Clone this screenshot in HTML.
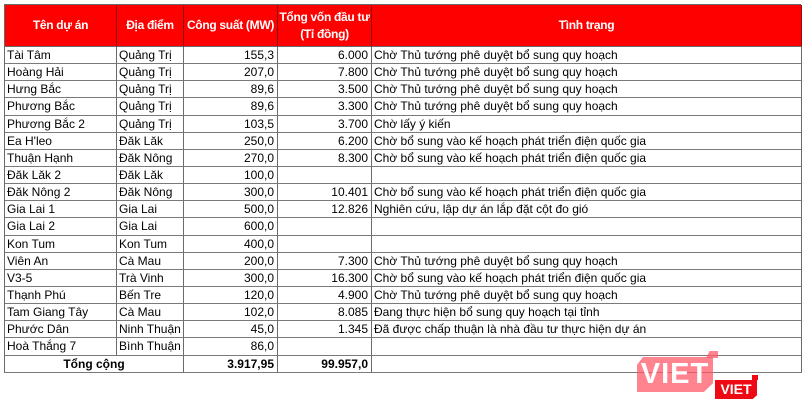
<!DOCTYPE html>
<html><head><meta charset="utf-8">
<style>
html,body{margin:0;padding:0;background:#fff;}
body{width:810px;height:407px;position:relative;overflow:hidden;font-family:"Liberation Sans","DejaVu Sans",sans-serif;font-size:12px;color:#000;}
.t{position:absolute;left:4px;top:4px;width:797px;display:grid;grid-template-columns:112px 67px 94px 94px 430px;grid-template-rows:42px repeat(19,17.15px);border-left:1px solid #6a6a6a;border-top:1px solid #6a6a6a;box-sizing:border-box;}
.t>div{border-right:1px solid #6a6a6a;border-bottom:1px solid #7a7a7a;box-sizing:border-box;line-height:17px;white-space:nowrap;overflow:hidden;padding:0 2px;}
.h{background:#fe0000;color:#fff;font-weight:bold;display:flex;align-items:center;justify-content:center;text-align:center;line-height:17px !important;border-right-color:#8a1010 !important;border-bottom-color:#6a6a6a !important;letter-spacing:-0.3px;padding:0 !important;}
.r{text-align:right;padding-right:3px !important;}
.b{font-weight:bold;}
.c{text-align:center;}
.s2{grid-column:span 2;}
.wm1{position:absolute;left:637px;top:357px;width:76px;height:35px;background:rgba(255,85,100,0.72);clip-path:polygon(0 22%,8% 0,100% 0,100% 75%,88% 100%,0 100%);color:#fff;font-weight:bold;font-size:29px;line-height:35px;text-align:center;letter-spacing:1px;}
.wm1b{position:absolute;left:706px;top:351px;width:12px;height:7px;background:rgba(255,85,100,0.72);clip-path:polygon(30% 0,100% 0,100% 100%,0 100%);}
.wm2{position:absolute;left:715px;top:380px;width:42px;height:19px;background:#ee0a14;clip-path:polygon(0 0,100% 0,100% 80%,90% 100%,0 100%);color:#fff;font-weight:bold;font-size:14px;line-height:19px;text-align:center;}
.wm2b{position:absolute;left:752px;top:375px;width:6px;height:5px;background:#ee0a14;}
</style></head><body>
<div class="t">
<div class="h">Tên dự án</div><div class="h">Địa điểm</div><div class="h">Công suất (MW)</div><div class="h">Tổng vốn đầu tư<br>(Tỉ đồng)</div><div class="h">Tình trạng</div>

<div>Tài Tâm</div><div>Quảng Trị</div><div class="r">155,3</div><div class="r">6.000</div><div>Chờ Thủ tướng phê duyệt bổ sung quy hoạch</div>
<div>Hoàng Hải</div><div>Quảng Trị</div><div class="r">207,0</div><div class="r">7.800</div><div>Chờ Thủ tướng phê duyệt bổ sung quy hoạch</div>
<div>Hưng Bắc</div><div>Quảng Trị</div><div class="r">89,6</div><div class="r">3.500</div><div>Chờ Thủ tướng phê duyệt bổ sung quy hoạch</div>
<div>Phương Bắc</div><div>Quảng Trị</div><div class="r">89,6</div><div class="r">3.300</div><div>Chờ Thủ tướng phê duyệt bổ sung quy hoạch</div>
<div>Phương Bắc 2</div><div>Quảng Trị</div><div class="r">103,5</div><div class="r">3.700</div><div>Chờ lấy ý kiến</div>
<div>Ea H'leo</div><div>Đăk Lăk</div><div class="r">250,0</div><div class="r">6.200</div><div>Chờ bổ sung vào kế hoạch phát triển điện quốc gia</div>
<div>Thuận Hạnh</div><div>Đăk Nông</div><div class="r">270,0</div><div class="r">8.300</div><div>Chờ bổ sung vào kế hoạch phát triển điện quốc gia</div>
<div>Đăk Lăk 2</div><div>Đăk Lăk</div><div class="r">100,0</div><div class="r"></div><div></div>
<div>Đăk Nông 2</div><div>Đăk Nông</div><div class="r">300,0</div><div class="r">10.401</div><div>Chờ bổ sung vào kế hoạch phát triển điện quốc gia</div>
<div>Gia Lai 1</div><div>Gia Lai</div><div class="r">500,0</div><div class="r">12.826</div><div>Nghiên cứu, lập dự án lắp đặt cột đo gió</div>
<div>Gia Lai 2</div><div>Gia Lai</div><div class="r">600,0</div><div class="r"></div><div></div>
<div>Kon Tum</div><div>Kon Tum</div><div class="r">400,0</div><div class="r"></div><div></div>
<div>Viên An</div><div>Cà Mau</div><div class="r">200,0</div><div class="r">7.300</div><div>Chờ Thủ tướng phê duyệt bổ sung quy hoạch</div>
<div>V3-5</div><div>Trà Vinh</div><div class="r">300,0</div><div class="r">16.300</div><div>Chờ bổ sung vào kế hoạch phát triển điện quốc gia</div>
<div>Thạnh Phú</div><div>Bến Tre</div><div class="r">120,0</div><div class="r">4.900</div><div>Chờ Thủ tướng phê duyệt bổ sung quy hoạch</div>
<div>Tam Giang Tây</div><div>Cà Mau</div><div class="r">102,0</div><div class="r">8.085</div><div>Đang thực hiện bổ sung quy hoạch tại tỉnh</div>
<div>Phước Dân</div><div>Ninh Thuận</div><div class="r">45,0</div><div class="r">1.345</div><div>Đã được chấp thuận là nhà đầu tư thực hiện dự án</div>
<div>Hoà Thắng 7</div><div>Bình Thuận</div><div class="r">86,0</div><div class="r"></div><div></div>
<div class="s2 c b">Tổng cộng</div><div class="r b">3.917,95</div><div class="r b">99.957,0</div><div></div>
</div>
<div class="wm1b"></div>
<div class="wm1">VIET</div>
<div class="wm2b"></div>
<div class="wm2">VIET</div>
</body></html>
